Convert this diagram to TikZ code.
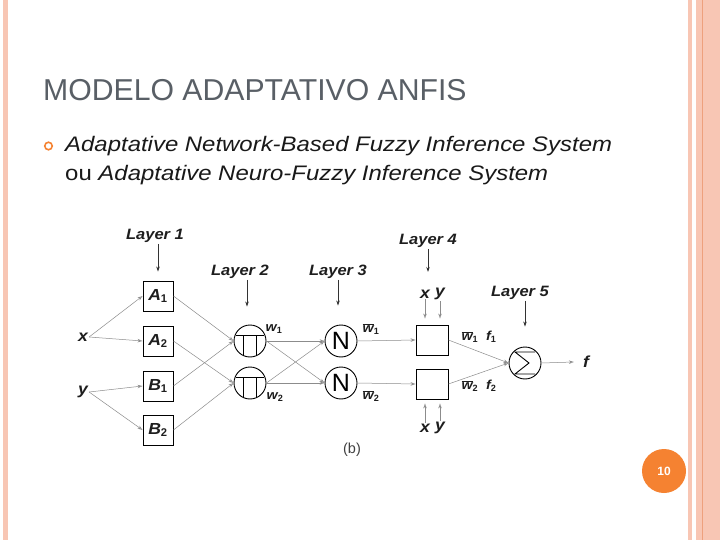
\documentclass[tikz,border=0pt]{standalone}
\usepackage{fontspec}
\setmainfont{Liberation Sans}
\newfontfamily\bodyfont[FakeStretch=1.14]{Liberation Sans}
\newfontfamily\labfont[FakeStretch=1.1]{Liberation Sans}
\usetikzlibrary{arrows.meta}
\definecolor{pinkb}{RGB}{248,198,180}
\definecolor{pinkd}{RGB}{238,160,125}
\definecolor{orangec}{RGB}{245,130,49}
\definecolor{titleg}{RGB}{89,95,102}
\definecolor{lineg}{RGB}{140,140,140}
\definecolor{lbl}{RGB}{30,30,30}
\tikzset{
  lab/.style={font=\labfont\fontsize{15}{15}\selectfont\bfseries\itshape, text=lbl, inner sep=1pt},
  var/.style={font=\labfont\fontsize{16}{16}\selectfont\bfseries\itshape, text=lbl, inner sep=1pt},
  wl/.style={font=\labfont\fontsize{13}{13}\selectfont\bfseries\itshape, text=lbl, inner sep=1pt},
  mfbox/.style={draw=black, line width=0.9pt, minimum width=30pt, minimum height=30pt, inner sep=0pt, font=\labfont\fontsize{16}{16}\selectfont\bfseries\itshape, text=lbl},
  rulebox/.style={draw=black, line width=0.9pt, minimum width=32pt, minimum height=30pt, inner sep=0pt},
  opnode/.style={draw=black, line width=0.9pt, circle, minimum size=32pt, inner sep=0pt, font=\fontsize{24}{24}\selectfont, text=black},
  symline/.style={draw=black, line width=0.9pt},
  conn/.style={draw=lineg, line width=0.5pt, -{Stealth[length=5pt,width=3.5pt,open]}},
  layarrow/.style={draw=black!80, line width=0.7pt, -{Stealth[length=5pt,width=3.5pt]}},
}
\begin{document}
\begin{tikzpicture}[x=1pt,y=-1pt]
\useasboundingbox (0,0) rectangle (720,540);
\fill[white] (0,0) rectangle (720,540);
% borders
\fill[pinkb] (2.7,0) rectangle (8,540);
\fill[pinkb] (688,0) rectangle (692,540);
\fill[pinkb] (696,0) rectangle (720,540);
\draw[pinkd, line width=1.2pt] (702.5,0) -- (702.5,540);
% title
\node[anchor=base west, inner sep=0pt, text=titleg, font=\fontsize{30.2}{30}\selectfont] (title) at (43,101) {MODELO ADAPTATIVO ANFIS};
% bullet
\node[draw=orangec, line width=1.6pt, circle, minimum size=7.5pt, inner sep=0pt] (bul) at (48.5,146) {};
\node[anchor=base west, inner sep=0pt, text=black!90, font=\bodyfont\fontsize{21}{21}\selectfont\itshape] (t1) at (65,152) {Adaptative Network-Based Fuzzy Inference System};
\node[anchor=base west, inner sep=0pt, text=black!90, font=\bodyfont\fontsize{21}{21}\selectfont] (t2) at (65,181) {ou \textit{Adaptative Neuro-Fuzzy Inference System}};
% page number
\node[circle, fill=orangec, minimum size=44pt, inner sep=0pt, text=white, font=\fontsize{12}{12}\selectfont\bfseries] (pg) at (664,471) {10};

% ---------- diagram ----------
\node[var] (x) at (83,337) {x};
\node[var] (y) at (83,392) {y};
\node[mfbox] (A1) at (158,296) {A$_{\mathbf{1}}$};
\node[mfbox] (A2) at (158,341) {A$_{\mathbf{2}}$};
\node[mfbox] (B1) at (158,386) {B$_{\mathbf{1}}$};
\node[mfbox] (B2) at (158,430) {B$_{\mathbf{2}}$};
\node[opnode] (P1) at (250,341) {};
\node[opnode] (P2) at (250,383) {};
\node[opnode, font=\fontsize{25}{25}\selectfont] (N1) at (341,341) {N};
\node[opnode, font=\fontsize{25}{25}\selectfont] (N2) at (341,383) {N};
\node[rulebox] (C1) at (432,340) {};
\node[rulebox] (C2) at (432,384) {};
\node[opnode] (S) at (525,363) {};
\node[var] (f) at (586,362) {f};

% Pi and Sigma symbols
\foreach \n in {P1,P2}{
  \draw[symline] ([shift={(-14,-6)}]\n.center) -- ([shift={(14,-6)}]\n.center);
  \draw[symline] ([shift={(-6.5,-6)}]\n.center) -- ([shift={(-6.5,14)}]\n.center);
  \draw[symline] ([shift={(6.5,-6)}]\n.center) -- ([shift={(6.5,14)}]\n.center);
}
\draw[symline, line join=miter] ([shift={(10,-11)}]S.center) -- ([shift={(-10,-11)}]S.center) -- ([shift={(4,0)}]S.center) -- ([shift={(-10,11)}]S.center) -- ([shift={(10,11)}]S.center);

% layer labels
\node[lab] (L1) at (155,236) {Layer 1};
\node[lab] (L2) at (240,272) {Layer 2};
\node[lab] (L3) at (338,272) {Layer 3};
\node[lab] (L4) at (428,241) {Layer 4};
\node[lab] (L5) at (520,293) {Layer 5};
\draw[layarrow] (L1.south -| A1.north) -- ([yshift=9pt]A1.north);
\draw[layarrow] ([xshift=-3pt]L2.south -| P1.north) -- ([xshift=-3pt,yshift=18pt]P1.north);
\draw[layarrow] ([xshift=-3pt]L3.south -| N1.north) -- ([xshift=-3pt,yshift=19pt]N1.north);
\draw[layarrow] (L4.south) -- ++(0,23) coordinate (l4end);
\draw[layarrow] (L5.south -| S.north) -- ([yshift=20pt]S.north);

% x y labels around layer 4
\node[var] (xt) at (425,294) {x};
\node[var] (yt) at (440,294) {y};
\node[var] (xb) at (425,428) {x};
\node[var] (yb) at (440,428) {y};
\draw[conn, shorten >=6pt] (xt.south) -- (xt.south |- C1.north);
\draw[conn, shorten >=6pt] (yt.south) -- (yt.south |- C1.north);
\draw[conn, shorten >=4pt] (xb.north) -- (xb.north |- C2.south);
\draw[conn, shorten >=4pt] (yb.north) -- (yb.north |- C2.south);

% weights
\node[wl] (w1) at (274,329) {w$_{\mathbf 1}$};
\node[wl] (w2) at (275,397) {w$_{\mathbf 2}$};
\node[wl] (wb1) at (371,329) {$\overline{\mbox{w}}_{\mathbf 1}$};
\node[wl] (wb2) at (371,396) {$\overline{\mbox{w}}_{\mathbf 2}$};
\node[wl] (o1) at (479,337) {$\overline{\mbox{w}}_{\mathbf 1}$\ \ f$_{\mathbf 1}$};
\node[wl] (o2) at (479,386) {$\overline{\mbox{w}}_{\mathbf 2}$\ \ f$_{\mathbf 2}$};

% connectors
\draw[conn] (x.east) -- (A1.west);
\draw[conn] (x.east) -- (A2.west);
\draw[conn] (y.east) -- (B1.west);
\draw[conn] (y.east) -- (B2.west);
\draw[conn] (A1.east) -- (P1.west);
\draw[conn] (B1.east) -- (P1.west);
\draw[conn] (A2.east) -- (P2.west);
\draw[conn] (B2.east) -- (P2.west);
\draw[conn] (P1.east) -- (N1.west);
\draw[conn] (P1.east) -- (N2.west);
\draw[conn] (P2.east) -- (N1.west);
\draw[conn] (P2.east) -- (N2.west);
\draw[conn] (N1.east) -- (C1.west);
\draw[conn] (N2.east) -- (C2.west);
\draw[conn] (C1.east) -- (S.west);
\draw[conn] (C2.east) -- (S.west);
\draw[conn] (S.east) -- ([xshift=-8pt]f.west);

\node[text=black!75, font=\fontsize{14.5}{14}\selectfont] (b) at (352,450) {(b)};
\end{tikzpicture}
\end{document}
